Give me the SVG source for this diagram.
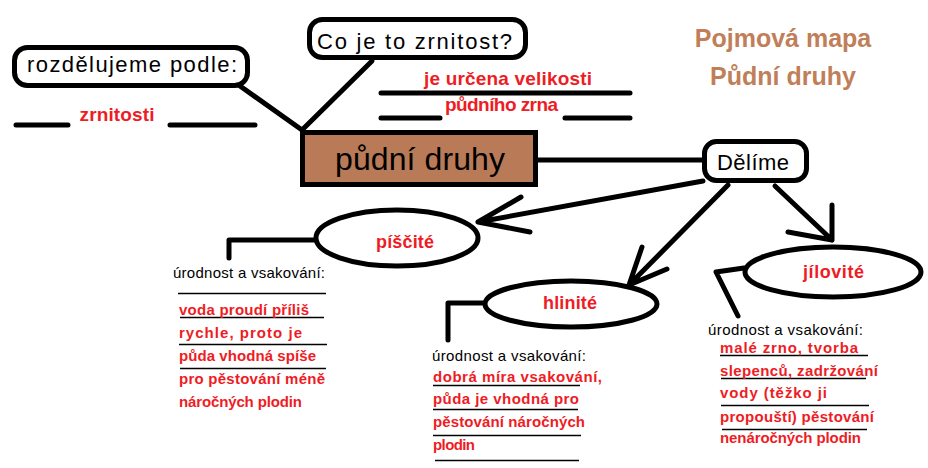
<svg xmlns="http://www.w3.org/2000/svg" width="928" height="468" viewBox="0 0 928 468">
<style>
.ln{fill:none;stroke:#000;stroke-width:5;stroke-linecap:round;stroke-linejoin:round}
.ul{fill:none;stroke:#000;stroke-width:1.5}
.box{fill:#fff;stroke:#000;stroke-width:5}
.bt{font-family:"Liberation Sans",Arial,sans-serif;fill:#000}
.rt{font-family:"Liberation Sans",Arial,sans-serif;font-weight:bold;fill:#ee1c24;font-size:15px}
.st{font-family:"Liberation Sans",Arial,sans-serif;fill:#000;font-size:15px}
.tt{font-family:"Liberation Sans",Arial,sans-serif;font-weight:bold;fill:#c07f58;font-size:25px;text-anchor:middle}
</style>
<rect width="928" height="468" fill="#fff"/>
<g id="connectors">
<path class="ln" d="M240,86 L302,130"/>
<path class="ln" d="M372,61 L302,130"/>
<path class="ln" d="M538,160 L704,160"/>
<path class="ln" d="M703,181 L478,222 M478,222 L521,197 M478,222 L530,232"/>
<path class="ln" d="M728,185 L629,285 M629,285 L642,247 M629,285 L667,269"/>
<path class="ln" d="M775,186 L832,240 M832,240 L832,205 M832,240 L788,232"/>
<path class="ln" d="M314,240 L229,240 L229,258"/>
<path class="ln" d="M483,303 L448,303 L448,340"/>
<path class="ln" d="M744,268 L716,272 L738,316"/>
</g>
<g id="title">
<text class="tt" x="783" y="47">Pojmová mapa</text>
<text class="tt" x="783" y="85">Půdní druhy</text>
</g>
<g id="node-rozdelujeme">
<rect class="box" x="14.5" y="47.5" width="233" height="38" rx="13"/>
<text class="bt" x="27" y="72" font-size="22" textLength="210">rozdělujeme podle:</text>
</g>
<g id="answer-zrnitosti">
<path class="ln" d="M16,125 L68,125 M170,125 L255,125"/>
<text class="rt" style="font-size:19px" x="117" y="121" text-anchor="middle" textLength="75">zrnitosti</text>
</g>
<g id="node-co-je">
<rect class="box" x="309.5" y="19.5" width="216" height="38" rx="13"/>
<text class="bt" x="317" y="49" font-size="22" textLength="195">Co je to zrnitost?</text>
</g>
<g id="answer-urcena">
<path class="ln" d="M381,93 L630,93"/>
<path class="ln" d="M381,118 L440,118 M565,118 L630,118"/>
<text class="rt" style="font-size:19px" x="424" y="85" textLength="168">je určena velikosti</text>
<text class="rt" style="font-size:19px" x="445" y="111" textLength="113">půdního zrna</text>
</g>
<g id="node-pudni-druhy">
<rect x="302.5" y="132.5" width="233" height="52" fill="#b97a57" stroke="#000" stroke-width="5"/>
<text class="bt" x="335" y="170" font-size="32" textLength="170">půdní druhy</text>
</g>
<g id="node-delime">
<rect class="box" x="704.5" y="141.5" width="102" height="39" rx="12"/>
<text class="bt" x="717" y="170" font-size="22" textLength="72">Dělíme</text>
</g>
<g id="node-piscite">
<ellipse class="box" cx="397" cy="238" rx="81" ry="28"/>
<text class="rt" style="font-size:18px" x="376" y="248" textLength="58">píščité</text>
<text class="st" x="173" y="278" textLength="152">úrodnost a vsakování:</text>
<path class="ul" d="M178,293.5 L326,293.5 M180,317.5 L324,317.5 M179,344.5 L327,344.5 M180,368.5 L326,368.5"/>
<text class="rt" x="179" y="315" textLength="130">voda proudí příliš</text>
<text class="rt" x="179" y="338" textLength="123">rychle, proto je</text>
<text class="rt" x="179" y="361" textLength="137">půda vhodná spíše</text>
<text class="rt" x="179" y="384" textLength="146">pro pěstování méně</text>
<text class="rt" x="179" y="407" textLength="123">náročných plodin</text>
</g>
<g id="node-hlinite">
<ellipse class="box" cx="571" cy="304" rx="86" ry="23"/>
<text class="rt" style="font-size:18px" x="543" y="309" textLength="54">hlinité</text>
<text class="st" x="432" y="361" textLength="154">úrodnost a vsakování:</text>
<path class="ul" d="M433,385.5 L580,385.5 M433,409.5 L578,409.5 M433,435.5 L581,435.5 M435,460.5 L579,460.5"/>
<text class="rt" x="433" y="382" textLength="169">dobrá míra vsakování,</text>
<text class="rt" x="433" y="404" textLength="146">půda je vhodná pro</text>
<text class="rt" x="433" y="427" textLength="152">pěstování náročných</text>
<text class="rt" x="433" y="450" textLength="42">plodin</text>
</g>
<g id="node-jilovite">
<ellipse class="box" cx="833" cy="272" rx="88" ry="25"/>
<text class="rt" style="font-size:18px" x="803" y="278" textLength="61">jílovité</text>
<text class="st" x="708" y="335" textLength="155">úrodnost a vsakování:</text>
<path class="ul" d="M720,355.5 L868,355.5 M721,378.5 L866,378.5 M721,405.5 L869,405.5 M722,429.5 L867,429.5"/>
<text class="rt" x="720" y="353" textLength="138">malé zrno, tvorba</text>
<text class="rt" x="720" y="376" textLength="158">slepenců, zadržování</text>
<text class="rt" x="720" y="398" textLength="107">vody (těžko ji</text>
<text class="rt" x="720" y="422" textLength="154">propouští) pěstování</text>
<text class="rt" x="720" y="443" textLength="141">nenáročných plodin</text>
</g>
</svg>
